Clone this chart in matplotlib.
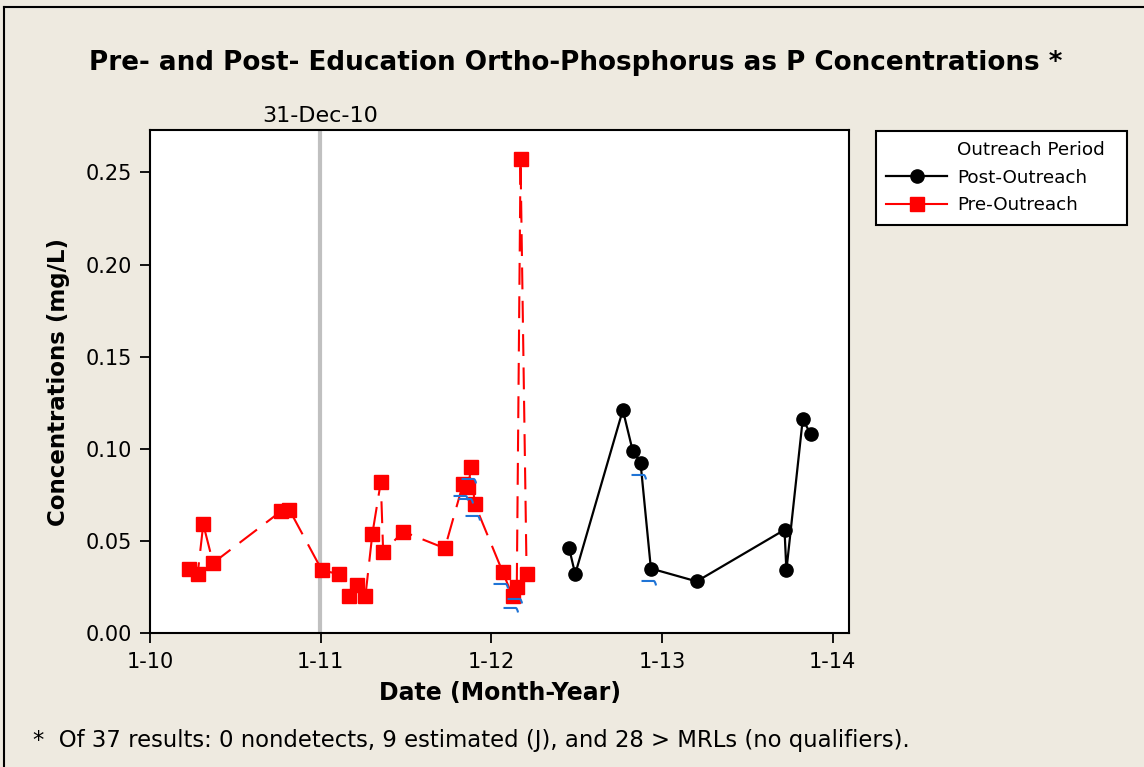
import matplotlib
matplotlib.use("Agg")
import matplotlib.pyplot as plt
from matplotlib.lines import Line2D
from matplotlib.path import Path
import numpy as np
import pandas as pd

# ── data ────────────────────────────────────────────────────────────────
pre_dates = ["2010-03-26", "2010-04-13", "2010-04-25", "2010-05-16",
             "2010-10-08", "2010-10-26", "2011-01-04", "2011-02-09",
             "2011-03-03", "2011-03-20", "2011-04-07", "2011-04-22",
             "2011-05-10", "2011-05-15", "2011-06-27", "2011-09-24",
             "2011-11-02", "2011-11-13", "2011-11-19", "2011-11-27",
             "2012-01-26", "2012-02-16", "2012-02-25", "2012-03-04",
             "2012-03-17"]
pre_conc = [0.035, 0.032, 0.059, 0.038, 0.066, 0.067, 0.034, 0.032,
            0.020, 0.026, 0.020, 0.054, 0.082, 0.044, 0.055, 0.046,
            0.081, 0.079, 0.090, 0.070, 0.033, 0.020, 0.025, 0.257,
            0.032]
pre_flag_j = [False] * 16 + [True] * 7 + [False] * 2

post_dates = ["2012-06-16", "2012-06-29", "2012-10-09", "2012-10-30",
              "2012-11-16", "2012-12-08", "2013-03-16", "2013-09-20",
              "2013-09-24", "2013-10-29", "2013-11-15"]
post_conc = [0.046, 0.032, 0.121, 0.099, 0.092, 0.035, 0.028, 0.056,
             0.034, 0.116, 0.108]
post_flag_j = [False, False, False, False, True, True, False, False,
               False, False, False]

ref_date = "2010-12-31"
ref_label = "31-Dec-10"
tick_dates = ["2010-01-01", "2011-01-01", "2012-01-01", "2013-01-01", "2014-01-01"]
tick_labels = ["1-10", "1-11", "1-12", "1-13", "1-14"]
y_ticks = [0.00, 0.05, 0.10, 0.15, 0.20, 0.25]

title = "Pre- and Post- Education Ortho-Phosphorus as P Concentrations *"
footnote = "*  Of 37 results: 0 nondetects, 9 estimated (J), and 28 > MRLs (no qualifiers)."

# ── style ───────────────────────────────────────────────────────────────
BG = "#EEEAE0"
RED = "#FF0000"
BLUE = "#1F74D6"
plt.rcParams["font.family"] = "DejaVu Sans"

pre_x = pd.to_datetime(pre_dates)
post_x = pd.to_datetime(post_dates)

fig = plt.figure(figsize=(11.44, 7.67), dpi=100, facecolor=BG)
ax = fig.add_axes([150 / 1144, 1 - 633 / 767, 699 / 1144, 503 / 767])
ax.set_facecolor("white")

# figure frame (top / left edges visible)
fig.add_artist(Line2D([4 / 1144, 1], [1 - 7 / 767, 1 - 7 / 767],
                      transform=fig.transFigure, color="black", lw=1.5))
fig.add_artist(Line2D([4 / 1144, 4 / 1144], [0, 1 - 7 / 767],
                      transform=fig.transFigure, color="black", lw=1.5))

# reference line
ax.axvline(pd.Timestamp(ref_date), color="#C0C0C0", lw=3, zorder=1)
ax.text(pd.Timestamp(ref_date), 1.008, ref_label, transform=ax.get_xaxis_transform(),
        ha="center", va="bottom", fontsize=16)

# series
ax.plot(pre_x, pre_conc, color=RED, lw=1.5, ls=(0, (10.5, 5.5)),
        marker="s", ms=9.5, mfc=RED, mec=RED, zorder=3)
ax.plot(post_x, post_conc, color="black", lw=1.6, ls="-",
        marker="o", ms=9.5, mfc="black", mec="black", zorder=3)

# "J" qualifier marks (small hooked dashes offset below-left of the point)
hook = Path([(-10, -11.5), (2.5, -11.5), (4, -12.5), (4.5, -16)],
            [Path.MOVETO, Path.LINETO, Path.CURVE3, Path.CURVE3])
jx = list(pre_x[np.array(pre_flag_j)]) + list(post_x[np.array(post_flag_j)])
jy = [c for c, f in zip(pre_conc, pre_flag_j) if f] + \
     [c for c, f in zip(post_conc, post_flag_j) if f]
ax.plot(jx, jy, ls="none", marker=hook, ms=23, mfc="none", mec=BLUE,
        mew=1.5, zorder=4)

# axes
ax.set_xlim(pd.Timestamp("2010-01-01"), pd.Timestamp("2014-02-05"))
ax.set_ylim(0, 0.273)
ax.set_xticks(pd.to_datetime(tick_dates))
ax.set_xticklabels(tick_labels)
ax.set_yticks(y_ticks)
ax.set_yticklabels([f"{v:.2f}" for v in y_ticks])
ax.tick_params(axis="both", direction="out", length=7, width=1.3,
               labelsize=15, pad=6, colors="black")
ax.tick_params(axis="x", pad=7)
for s in ax.spines.values():
    s.set_linewidth(1.5)
    s.set_color("black")

ax.set_ylabel("Concentrations (mg/L)", fontsize=16.5, fontweight="bold", labelpad=11)
ax.set_xlabel("Date (Month-Year)", fontsize=17, fontweight="bold", labelpad=6)

fig.text(576 / 1144, 1 - 63 / 767, title, ha="center", va="center",
         fontsize=18.9, fontweight="bold")
fig.text(33 / 1144, 1 - 740 / 767, footnote, ha="left", va="center", fontsize=16.4)

# legend
handles = [Line2D([], [], color="none"),
           Line2D([], [], color="black", lw=1.6, marker="o", ms=9.5),
           Line2D([], [], color=RED, lw=1.5, marker="s", ms=9.5)]
labels = ["Outreach Period  ", "Post-Outreach", "Pre-Outreach"]
leg = fig.legend(handles, labels, loc="upper left",
                 bbox_to_anchor=(876 / 1144, 1 - 131 / 767),
                 borderaxespad=0, frameon=True, fancybox=False,
                 fontsize=13.2, handlelength=3.3, handletextpad=0.55,
                 labelspacing=0.52, borderpad=0.56)
leg.get_frame().set_edgecolor("black")
leg.get_frame().set_linewidth(1.5)
leg.get_frame().set_facecolor("white")
leg.get_frame().set_alpha(1)

fig.savefig("out.png", dpi=100, facecolor=BG)
